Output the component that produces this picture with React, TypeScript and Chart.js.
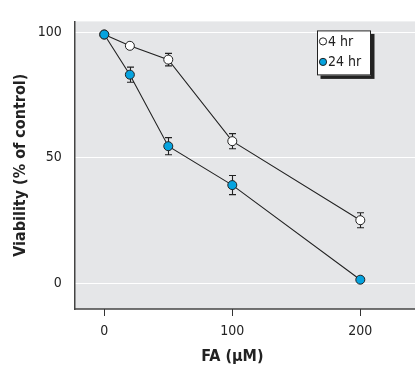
import React, { useEffect, useRef } from 'react';
import { Chart, registerables } from 'chart.js';
Chart.register(...registerables);

const concentrations = [0, 20, 50, 100, 200];
const viability4h = [99, 94.5, 89, 56.5, 25];
const error4h = [0, 0, 2.5, 3, 3];
const viability24h = [99, 83, 54.5, 39, 1.3];
const error24h = [0, 3, 3.4, 3.8, 0];
const seriesLabels = ['4 hr', '24 hr'];
const xTicks = [0, 100, 200];
const yTicks = [0, 50, 100];
const xTitle = 'FA (\u03bcM)';
const yTitle = 'Viability (% of control)';

const FONT = '"Liberation Sans Narrow", "DejaVu Sans Condensed", "Arial Narrow", "Liberation Sans", sans-serif';
const BG = '#e5e6e8';
const BLUE = '#05a3df';
const DARK = '#222222';
const fills = ['#ffffff', BLUE];
const errorSets = [error4h, error24h];

const backgroundPlugin = {
  id: 'bgPlot',
  beforeDraw(chart: any) {
    const { ctx, chartArea } = chart;
    const y = chart.scales.y;
    ctx.save();
    ctx.fillStyle = BG;
    ctx.fillRect(chartArea.left, chartArea.top, chart.width - chartArea.left, chartArea.bottom - chartArea.top);
    ctx.strokeStyle = '#ffffff';
    ctx.lineWidth = 1;
    yTicks.forEach((v) => {
      const py = Math.round(y.getPixelForValue(v)) + 0.5;
      ctx.beginPath();
      ctx.moveTo(chartArea.left, py);
      ctx.lineTo(chart.width, py);
      ctx.stroke();
    });
    ctx.strokeStyle = '#444';
    ctx.lineWidth = 1.5;
    ctx.beginPath();
    ctx.moveTo(chartArea.left, chartArea.bottom);
    ctx.lineTo(chart.width, chartArea.bottom);
    ctx.stroke();
    ctx.restore();
  },
};

const errorBarPlugin = {
  id: 'errBars',
  beforeDatasetsDraw(chart: any) {
    const { ctx } = chart;
    const xs = chart.scales.x;
    const ys = chart.scales.y;
    ctx.save();
    ctx.strokeStyle = DARK;
    ctx.lineWidth = 1.1;
    chart.data.datasets.forEach((ds: any, di: number) => {
      const errs = errorSets[di];
      ds.data.forEach((pt: any, i: number) => {
        const e = errs[i];
        if (!e) return;
        const val = pt.y;
        const px = Math.round(xs.getPixelForValue(pt.x)) + 0.5;
        const y1 = ys.getPixelForValue(val + e);
        const y2 = ys.getPixelForValue(val - e);
        ctx.beginPath();
        ctx.moveTo(px, y1);
        ctx.lineTo(px, y2);
        ctx.moveTo(px - 3.5, y1);
        ctx.lineTo(px + 3.5, y1);
        ctx.moveTo(px - 3.5, y2);
        ctx.lineTo(px + 3.5, y2);
        ctx.stroke();
      });
    });
    ctx.restore();
  },
};

const legendPlugin = {
  id: 'boxLegend',
  afterDraw(chart: any) {
    const { ctx, chartArea } = chart;
    const left = chartArea.right - 73;
    const top = chartArea.top + 9;
    const w = 54;
    const h = 45;
    ctx.save();
    ctx.fillStyle = DARK;
    ctx.fillRect(left + 3.5, top + 3.5, w, h);
    ctx.fillStyle = '#fff';
    ctx.fillRect(left, top, w, h);
    ctx.strokeStyle = DARK;
    ctx.lineWidth = 1;
    ctx.strokeRect(left + 0.5, top + 0.5, w - 1, h - 1);
    ctx.font = `14px ${FONT}`;
    ctx.textBaseline = 'middle';
    seriesLabels.forEach((lab, i) => {
      const cy = top + 11 + i * 20.5;
      ctx.beginPath();
      ctx.arc(left + 6, cy, 3.6, 0, Math.PI * 2);
      ctx.fillStyle = fills[i];
      ctx.fill();
      ctx.strokeStyle = DARK;
      ctx.stroke();
      ctx.fillStyle = DARK;
      ctx.fillText(lab, left + 11, cy + 0.5);
    });
    ctx.restore();
  },
};

export default function App() {
  const ref = useRef<HTMLCanvasElement>(null);
  useEffect(() => {
    if (!ref.current) return;
    const mk = (vals: number[], i: number) => ({
      label: seriesLabels[i],
      data: vals.map((v, k) => ({ x: concentrations[k], y: v })),
      borderColor: DARK,
      borderWidth: 1.1,
      pointRadius: 4.5,
      pointBorderWidth: 1,
      pointBorderColor: DARK,
      pointBackgroundColor: fills[i],
      showLine: true,
      fill: false,
      tension: 0,
      order: i === 0 ? 1 : 0,
    });
    const chart = new Chart(ref.current, {
      type: 'line',
      data: {
        datasets: [mk(viability4h, 0), mk(viability24h, 1)] as any,
      },
      options: {
        animation: false,
        responsive: false,
        maintainAspectRatio: false,
        layout: { padding: { top: 11, right: 25, left: 0, bottom: 0 } },
        plugins: { legend: { display: false }, tooltip: { enabled: false } },
        scales: {
          x: {
            type: 'linear',
            min: -23.1,
            max: 223.2,
            afterBuildTicks: (s: any) => {
              s.ticks = xTicks.map((v) => ({ value: v }));
            },
            afterFit: (s: any) => {
              s.height = 60;
            },
            grid: { display: true, drawOnChartArea: false, drawTicks: true, tickLength: 7, color: '#333', lineWidth: 1 },
            border: { display: false },
            ticks: { color: DARK, font: { family: FONT, size: 14 }, padding: 7, maxRotation: 0 },
            title: { display: true, text: xTitle, color: DARK, font: { family: FONT, size: 16, weight: 'bold' }, padding: { top: 0, bottom: 3 } },
          },
          y: {
            type: 'linear',
            min: -10.38,
            max: 104.23,
            afterBuildTicks: (s: any) => {
              s.ticks = yTicks.map((v) => ({ value: v }));
            },
            afterFit: (s: any) => {
              s.width = 74.7;
            },
            grid: { display: false, drawTicks: false },
            border: { display: true, color: '#444', width: 1.5 },
            ticks: { color: DARK, font: { family: FONT, size: 14 }, padding: 13 },
            title: { display: true, text: yTitle, color: DARK, font: { family: FONT, size: 16, weight: 'bold' }, padding: { top: 11, bottom: 0 } },
          },
        },
      },
      plugins: [backgroundPlugin, errorBarPlugin, legendPlugin],
    } as any);
    return () => chart.destroy();
  }, []);
  return (
    <div style={{ position: 'fixed', left: 0, top: 0, width: 415, height: 369 }}>
      <canvas ref={ref} width={415} height={369} style={{ display: 'block', width: 415, height: 369 }} />
    </div>
  );
}
